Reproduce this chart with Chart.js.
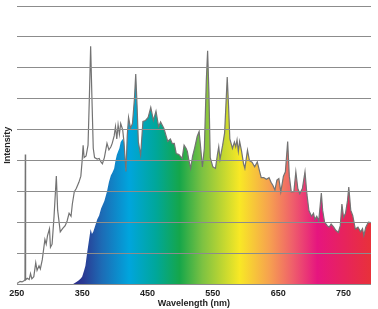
<!DOCTYPE html>
<html>
<head>
<meta charset="utf-8">
<script src="https://cdn.jsdelivr.net/npm/chart.js@4"></script>
<style>
    html, body { margin: 0; padding: 0; background: #fff; }
    #wrap { width: 378px; height: 309px; }
</style>
</head>
<body>
<div id="wrap"><canvas id="chart"></canvas></div>
<script>
// Lamp spectrum (grey outline), wavelength in nm / relative intensity
const lampNm = [250, 252, 255, 258, 261, 262.5, 263, 263.5, 266, 269, 271, 273, 276, 279, 281, 284, 286, 289, 293, 295, 297, 300, 301.5, 304, 307, 310.5, 312.5, 316.5, 320, 324, 327, 330, 333, 335, 338, 341, 345, 348, 350, 351.5, 353, 356, 359, 361, 363, 365, 367, 369, 373, 376, 379, 381, 384, 388, 391, 394, 396, 399, 401, 403, 405, 407, 409, 412, 414, 417, 419, 421, 424, 427, 430, 432, 434, 436, 439.5, 443, 447, 451, 455, 459, 463, 467, 470, 475, 481, 485, 488, 491, 494, 498, 503, 506, 509, 511, 513, 516, 519, 522, 526, 529, 531, 534, 537, 540, 542, 544, 546, 550, 554, 557, 559, 561, 565, 568, 570, 572, 574, 576, 580, 583, 585, 587, 589, 591, 594, 597, 599, 603, 606, 610, 614, 618, 621, 624, 628, 632, 636, 639, 642, 645, 648, 651, 654, 658, 661, 664.5, 667, 670, 674, 677, 680, 683, 687, 691, 694, 697, 701, 704, 706, 709, 712, 716, 718, 721, 725, 728, 731, 735, 738, 742, 745, 747.5, 750, 753, 756, 758, 761, 764, 768, 772, 776, 779, 781, 784, 788, 792];
const lampVal = [0.3, 0.5, 1, 0.8, 1.2, 1.5, 42, 1.5, 2, 1.6, 3.5, 1.8, 2.5, 7, 4.5, 6, 5, 8, 14.5, 13, 15.8, 18, 12, 13, 22, 35, 24, 17, 18, 19, 20.5, 23, 22, 26, 30, 31, 33, 35, 40, 45, 41, 41.5, 45, 60, 77, 60, 44, 41, 40.5, 40.7, 39.5, 39, 41, 45.6, 43.5, 44.5, 45.6, 48, 51, 47, 51.6, 48.5, 52, 50, 46, 36.5, 48, 54, 50.5, 52, 60, 68, 58, 46, 41.8, 52.7, 53, 54, 57.2, 53, 56, 51, 52.5, 50.5, 46.2, 47, 45.5, 45.6, 42.3, 42, 40.7, 45, 44, 43, 40.5, 37.5, 41.5, 44, 47.8, 49.4, 45, 38, 44, 66, 75.5, 62, 41, 38, 37.5, 42, 44.5, 40.5, 45, 49, 58, 67, 58, 47, 44, 46, 44.5, 46.7, 43, 46.2, 43, 39, 37.5, 43.4, 40, 39.5, 38, 39.6, 37, 34.5, 34.5, 34, 34.5, 33, 32, 30.5, 33.7, 34.2, 29.9, 35, 36.4, 46.2, 35, 29.9, 30, 36.4, 31, 29.3, 31, 36.4, 29, 23.9, 22, 23, 21, 22, 20.5, 29.5, 24, 20.1, 19, 18.5, 19.5, 18.5, 17.5, 16.8, 19, 26, 21.7, 23, 27, 31.5, 24, 22.3, 17.9, 18.5, 17, 18, 15.8, 18.5, 20.1, 20];

// Filtered spectrum (coloured area) below 414 nm; above that it follows the lamp curve
const filterNm = [335, 340, 344, 347.5, 350, 353, 355, 357.5, 360, 363, 365, 367, 370, 373, 376, 379, 381, 384, 388, 391, 394, 396, 399, 401, 403, 405, 407, 409, 412];
const filterVal = [0, 0.6, 1.2, 1.8, 2.5, 4.5, 6, 10, 13.6, 17.9, 16.3, 17, 19, 21, 22.3, 24.5, 25.5, 27, 30, 33.1, 35.3, 36, 37.5, 40, 41.8, 43, 44, 46, 47];

const xTicks = [250, 350, 450, 550, 650, 750];

// colour of the visible spectrum along the wavelength axis
const spectrumStops = [
    [335, '#2b2a86'], [352, '#2a3a93'], [380, '#1d6bb5'], [422, '#00a5dd'],
    [463, '#00a79a'], [499, '#15a64a'], [534, '#7cc242'], [560, '#b5d334'],
    [591, '#f8e825'], [637, '#f6a050'], [672, '#ef5f6b'], [710, '#e6157f'],
    [792, '#e8313a']
];

const lampPoints = lampNm.map((nm, i) => ({ x: nm, y: lampVal[i] }));
const filterPoints = filterNm.map((nm, i) => ({ x: nm, y: filterVal[i] }))
    .concat(lampPoints.filter(p => p.x >= 414));

function spectrumFill(context) {
    const chart = context.chart;
    const area = chart.chartArea;
    if (!area) return null;
    const xs = chart.scales.x;
    const g = chart.ctx.createLinearGradient(area.left, 0, area.right, 0);
    const span = area.right - area.left;
    spectrumStops.forEach(([nm, c]) => {
        const p = (xs.getPixelForValue(nm) - area.left) / span;
        g.addColorStop(Math.min(1, Math.max(0, p)), c);
    });
    return g;
}

const font = { family: 'Liberation Sans', size: 9, weight: 'bold' };

new Chart(document.getElementById('chart'), {
    type: 'line',
    data: {
        datasets: [{
            label: 'Lamp',
            data: lampPoints,
            borderColor: '#737373',
            borderWidth: 1.2,
            fill: false
        }, {
            label: 'Filtered',
            data: filterPoints,
            borderWidth: 0,
            borderColor: 'rgba(0,0,0,0)',
            backgroundColor: spectrumFill,
            fill: 'origin'
        }]
    },
    options: {
        responsive: true,
        maintainAspectRatio: false,
        animation: false,
        layout: { padding: { left: 2, right: 7, top: 6, bottom: 0 } },
        elements: { point: { radius: 0 }, line: { tension: 0 } },
        plugins: { legend: { display: false }, tooltip: { enabled: false } },
        scales: {
            x: {
                type: 'linear',
                min: 250,
                max: 792,
                afterBuildTicks: axis => { axis.ticks = xTicks.map(v => ({ value: v })); },
                grid: { display: false, drawTicks: false },
                border: { display: false },
                ticks: { font: font, color: '#222', padding: 3.5, maxRotation: 0 },
                title: { display: true, text: 'Wavelength (nm)', font: font, color: '#222', padding: { top: -4, bottom: 0 } }
            },
            y: {
                min: 0,
                max: 90,
                ticks: { display: false, stepSize: 10 },
                border: { display: false },
                grid: { color: '#8c8c8c', lineWidth: 1, drawTicks: false, z: 1 },
                title: { display: true, text: 'Intensity', font: font, color: '#222', padding: { top: 0, bottom: 4 } }
            }
        }
    }
});
</script>
</body>
</html>
